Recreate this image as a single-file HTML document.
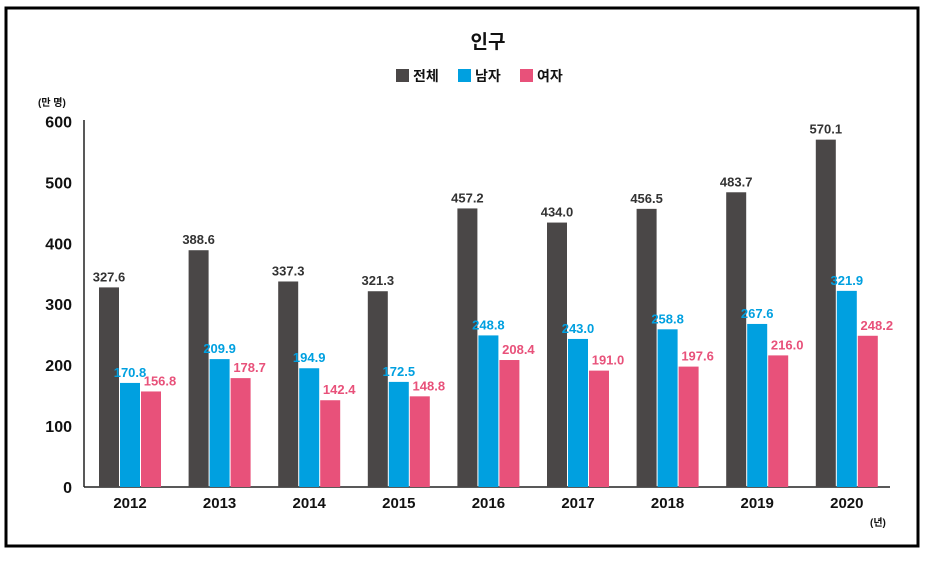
<!DOCTYPE html>
<html><head><meta charset="utf-8"><style>
body{margin:0;background:#fff;width:930px;height:557px;overflow:hidden;font-family:"Liberation Sans","Noto Sans CJK KR",sans-serif}
</style></head><body>
<svg width="930" height="557" xmlns="http://www.w3.org/2000/svg" style="font-family:'Liberation Sans','Noto Sans CJK KR',sans-serif">
<rect x="6" y="8" width="912" height="538" fill="none" stroke="#000" stroke-width="3"/>
<text x="488" y="48" text-anchor="middle" font-size="19" font-weight="bold" fill="#111">인구</text>
<g>
<rect x="396" y="69" width="13" height="13" fill="#4a4747"/>
<text x="413" y="81" font-size="14" font-weight="bold" fill="#111">전체</text>
<rect x="458" y="69" width="13" height="13" fill="#00a0e0"/>
<text x="475" y="81" font-size="14" font-weight="bold" fill="#111">남자</text>
<rect x="520" y="69" width="13" height="13" fill="#e8517a"/>
<text x="537" y="81" font-size="14" font-weight="bold" fill="#111">여자</text>
</g>
<text x="38" y="106" font-size="10" font-weight="bold" fill="#111">(만 명)</text>
<text x="870" y="526" font-size="10" font-weight="bold" fill="#111">(년)</text>
<line x1="84" y1="120" x2="84" y2="487" stroke="#222" stroke-width="1.5"/>
<line x1="84" y1="487" x2="890" y2="487" stroke="#222" stroke-width="1.5"/>
<g id="plot"></g>
</svg>
<script>
const categories=["2012","2013","2014","2015","2016","2017","2018","2019","2020"];
const totalValues=[327.6,388.6,337.3,321.3,457.2,434.0,456.5,483.7,570.1];
const maleValues=[170.8,209.9,194.9,172.5,248.8,243.0,258.8,267.6,321.9];
const femaleValues=[156.8,178.7,142.4,148.8,208.4,191.0,197.6,216.0,248.2];
const yTicks=[0,100,200,300,400,500,600];
const NS="http://www.w3.org/2000/svg";
const plot=document.getElementById('plot');
function y(v){return 487-v*0.6093;}
function groupX(i){return 99+i*89.6;}
function mk(tag,attrs){const e=document.createElementNS(NS,tag);for(const k in attrs)e.setAttribute(k,attrs[k]);plot.appendChild(e);return e;}
yTicks.forEach(t=>{
  const e=mk('text',{x:72,y:y(t)+6,'text-anchor':'end','font-size':16,'font-weight':'bold',fill:'#111'});
  e.textContent=t;
  
  
});
const series=[[totalValues,'#4a4747','#333','total'],[maleValues,'#00a0e0','#00a0e0','male'],[femaleValues,'#e8517a','#e8517a','female']];
categories.forEach((c,i)=>{
  const gx=groupX(i);
  const l=mk('text',{x:gx+31,y:508,'text-anchor':'middle','font-size':15,'font-weight':'bold',fill:'#111'});
  l.textContent=c;
  
  
  series.forEach((s,j)=>{
    const v=s[0][i];const bx=gx+j*21;
    const r=mk('rect',{x:bx,y:y(v),width:20,height:487-y(v),fill:s[1]});
    
    
    let lx=bx+10;
    if(j===2) lx=bx+19;
    const t=mk('text',{x:lx,y:y(v)-6,'text-anchor':'middle','font-size':13,'font-weight':'bold',fill:s[2]});
    t.textContent=v.toFixed(1);
    
    
  });
});
</script>
</body></html>
